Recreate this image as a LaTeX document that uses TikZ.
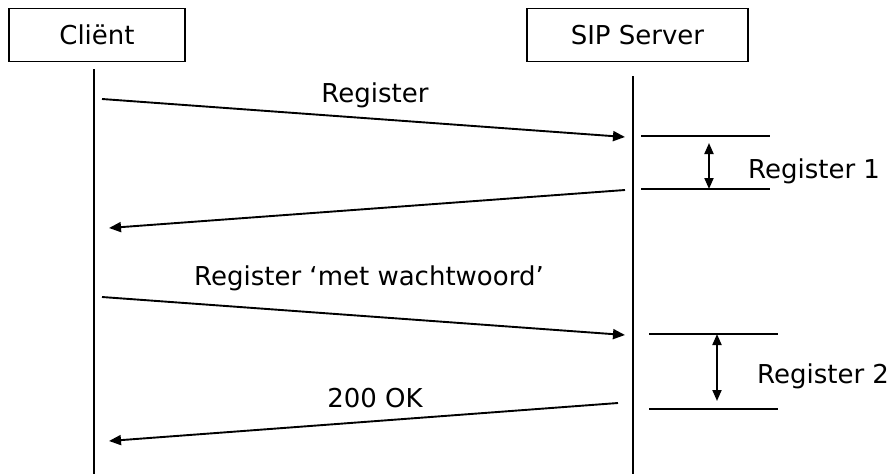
\documentclass[tikz,border=0pt]{standalone}
\usepackage{fontspec}
\setmainfont{DejaVu Sans}
\usetikzlibrary{arrows.meta}
\begin{document}
\begin{tikzpicture}[x=1pt,y=-1pt,
  every node/.style={font=\fontsize{26}{30}\selectfont, inner sep=0pt},
  actor/.style={draw, line width=1.9pt, minimum height=53pt},
  life/.style={line width=1.9pt},
  msg/.style={line width=1.9pt, -{Triangle[length=12pt,width=10pt]}},
  tickline/.style={line width=1.9pt},
  spanarrow/.style={line width=1.9pt, {Triangle[length=11pt,width=9pt]}-{Triangle[length=11pt,width=9pt]}},
  lbl/.style={anchor=base}]
\useasboundingbox (0,0) rectangle (892,474);

% participants
\node[actor, minimum width=176pt] (client) at (97,35) {Cliënt};
\node[actor, minimum width=221pt] (server) at (637.5,35) {SIP Server};

% lifelines
\coordinate (ctop) at (94,69);
\coordinate (cbot) at (94,474);
\coordinate (stop) at (633,76);
\coordinate (sbot) at (633,474);
\draw[life] (ctop) -- (cbot);
\draw[life] (stop) -- (sbot);

% message end points
\coordinate (m1a) at (102,99);
\coordinate (m1b) at (625,137);
\coordinate (m2a) at (625,190);
\coordinate (m2b) at (109,228);
\coordinate (m3a) at (102,297);
\coordinate (m3b) at (625,335);
\coordinate (m4a) at (618,403);
\coordinate (m4b) at (109,441);

\draw[msg] (m1a) -- (m1b);
\draw[msg] (m2a) -- (m2b);
\draw[msg] (m3a) -- (m3b);
\draw[msg] (m4a) -- (m4b);

\node[lbl] (l1) at (375,102) {Register};
\node[lbl] (l3) at (369,285) {Register ‘met wachtwoord’};
\node[lbl] (l4) at (375,407) {200 OK};

% first register interval
\coordinate (r1a) at (641,136);
\coordinate (r1b) at (770,136);
\coordinate (r1c) at (641,189);
\coordinate (r1d) at (770,189);
\draw[tickline] (r1a) -- (r1b);
\draw[tickline] (r1c) -- (r1d);
\coordinate (d1a) at (709,143);
\coordinate (d1b) at (709,189);
\draw[spanarrow] (d1a) -- (d1b);
\node[lbl, anchor=base west] (t1) at (748,178) {Register 1};

% second register interval
\coordinate (r2a) at (649,334);
\coordinate (r2b) at (778,334);
\coordinate (r2c) at (649,409);
\coordinate (r2d) at (778,409);
\draw[tickline] (r2a) -- (r2b);
\draw[tickline] (r2c) -- (r2d);
\coordinate (d2a) at (717,334);
\coordinate (d2b) at (717,401);
\draw[spanarrow] (d2a) -- (d2b);
\node[lbl, anchor=base west] (t2) at (757,383) {Register 2};
\end{tikzpicture}
\end{document}
